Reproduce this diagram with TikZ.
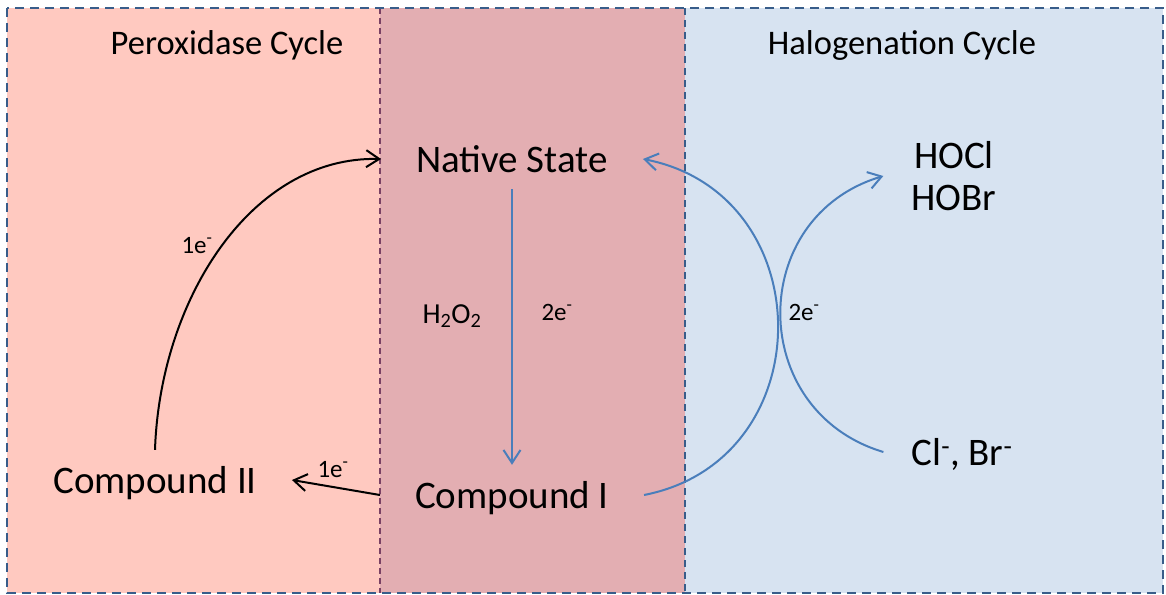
\documentclass[tikz,border=0pt]{standalone}
\usepackage{fontspec}
\setmainfont{Carlito}
\usetikzlibrary{arrows.meta, positioning}
\definecolor{peroxbg}{RGB}{255,201,192}
\definecolor{middlebg}{RGB}{227,174,178}
\definecolor{halobg}{RGB}{215,227,241}
\definecolor{frameblue}{RGB}{56,93,138}
\definecolor{framemaroon}{RGB}{122,65,100}
\definecolor{arrowblue}{RGB}{74,126,187}

\begin{document}
\begin{tikzpicture}[
    x=1pt, y=-1pt,
    statenode/.style={font=\fontsize{39}{42}\selectfont, text height=30pt,
                      text depth=4pt, inner xsep=35pt, inner ysep=13pt},
    ionnode/.style={font=\fontsize{39}{42}\selectfont, inner xsep=28pt,
                    align=center},
    titletext/.style={font=\fontsize{34.5}{38}\selectfont, anchor=base},
    lbl/.style={font=\fontsize{25}{28}\selectfont, anchor=base},
    panelframe/.style={draw=frameblue, line width=2pt,
                       dash pattern=on 9pt off 6pt},
    >={Straight Barb[length=13pt, width=17pt]},
    blue arrow/.style={->, draw=arrowblue, line width=2pt},
    black arrow/.style={->, line width=2pt}
  ]
  \useasboundingbox (0,0) rectangle (1166,594);

  % Panels
  \fill[peroxbg] (7,8) rectangle (380,593);
  \fill[middlebg] (380,8) rectangle (685,593);
  \fill[halobg] (685,8) rectangle (1163,593);
  \draw[framemaroon, line width=1.6pt, dash pattern=on 6pt off 4pt]
    (380,8) -- (380,593);
  \draw[frameblue, line width=1.6pt, dash pattern=on 7pt off 5pt]
    (685,8) -- (685,593);
  \draw[panelframe] (7,8) rectangle (1163,593);

  \node[titletext] (pt) at (227,55) {Peroxidase Cycle};
  \node[titletext] (ht) at (902,55) {Halogenation Cycle};

  % States
  \node[statenode] (ns) at (512,159) {Native State};
  \node[statenode] (ci) at (512,495) {Compound I};
  \node[statenode] (cii) at (155,480) {Compound II};
  \node[ionnode, text height=30pt, text depth=4pt, inner ysep=13pt] (hal)
    at (962,452) {Cl\textsuperscript{-}, Br\textsuperscript{-}};
  \node[ionnode] (hox) at (954,176) {HOCl\\HOBr};

  % Labels
  \node[lbl] (e1a) at (197,253) {1e\textsuperscript{-}};
  \node[lbl] (e1b) at (333,477) {1e\textsuperscript{-}};
  \node[lbl, font=\fontsize{29}{32}\selectfont] (hpo) at (452,323)
    {H\textsubscript{2}O\textsubscript{2}};
  \node[lbl] (e2a) at (557,320) {2e\textsuperscript{-}};
  \node[lbl] (e2b) at (804,320) {2e\textsuperscript{-}};

  % Peroxidase arrows
  \draw[black arrow] (cii.north) .. controls +(5,-150) and +(-130,-3) .. (ns.west);
  \draw[black arrow] (ci.west) -- (cii.east);
  \draw[blue arrow] (ns.south) -- (ci.north);

  % Halogenation arrows
  \draw[blue arrow] (ci.east) .. controls +(179,-35) and +(179,35) .. (ns.east);
  \draw[blue arrow] (hal.west) .. controls +(-137,-41) and +(-137,41) .. (hox.west);
\end{tikzpicture}
\end{document}
